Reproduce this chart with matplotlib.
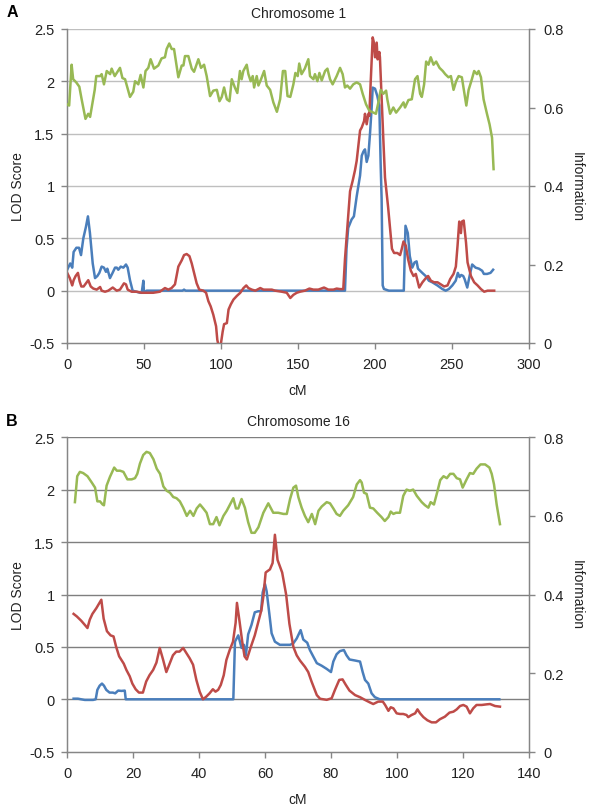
import matplotlib
matplotlib.use("Agg")
import matplotlib.pyplot as plt

plt.rcParams['font.family'] = ['Liberation Sans', 'DejaVu Sans']

# ---------------- Chromosome 1 data ----------------
a_blue_cm = [0.1, 2.1, 3.4, 4.3, 6.1, 7.8, 9.1, 10.6, 12.3, 13.6, 14.9, 16.7, 18.2, 19.7, 21, 22.5, 24, 25.3, 26.2,
             27.9, 29.6, 31.2, 32.3, 33.3, 34.9, 36.6, 38.3, 39.4, 40.9, 42.6, 47.4, 48.5, 49.6, 50, 51.7, 75, 76, 77,
             180.5, 181.5, 182.6, 184.8, 186.3, 188.1, 190.3, 191.4, 192.5, 193.5, 194.6, 195.7, 196.8, 197.8, 198.5,
             200, 201.5, 202.8, 203.7, 204.3, 205.0, 205.8, 209, 218.7, 219.8, 221.3, 222.6, 224.2, 225.7, 227, 227.9,
             230.7, 232.9, 235, 237.2, 240.5, 243.7, 245.9, 248, 250.2, 252.4, 253.8, 254.9, 256, 257.3, 258.2, 259.9,
             261.7, 263.1, 265.3, 267.5, 269.6, 270.7, 272.8, 275, 276.7]
a_blue_lod = [0.20, 0.26, 0.22, 0.37, 0.41, 0.41, 0.34, 0.50, 0.61, 0.71, 0.55, 0.26, 0.12, 0.14, 0.17, 0.23, 0.22, 0.18,
              0.21, 0.12, 0.17, 0.22, 0.22, 0.20, 0.23, 0.22, 0.25, 0.22, 0.10, 0.0, -0.02, -0.02, 0.095, -0.02, 0.0,
              0.0, 0.01, 0.0, 0.0, 0.40, 0.60, 0.68, 0.71, 0.90, 1.10, 1.29, 1.33, 1.35, 1.23, 1.29, 1.51, 1.74, 1.94,
              1.93, 1.86, 1.77, 1.19, 0.88, 0.05, 0.016, 0.0, 0.0, 0.62, 0.55, 0.33, 0.22, 0.27, 0.28, 0.21, 0.17,
              0.14, 0.095, 0.08, 0.05, 0.016, 0.0, 0.016, 0.05, 0.095, 0.17, 0.13, 0.15, 0.14, 0.11, 0.03, 0.16, 0.25,
              0.22, 0.21, 0.19, 0.16, 0.16, 0.17, 0.20]

a_red_cm = [0.1, 1.8, 3.4, 4.3, 5.6, 7.1, 8.2, 9.3, 10.8, 12.3, 13.8, 15.4, 17.1, 19.3, 21.5, 22.5, 24.7, 26.8, 29.7,
            32.3, 34.4, 37, 38.3, 39.4, 42, 45.3, 48.5, 51.7, 56, 60.3, 63.6, 65.8, 67.9, 70.1, 72.3, 74.5, 76, 77.7,
            79.5, 81, 82.5, 84.2, 85.9, 88.5, 90.3, 91.8, 93.3, 95, 96.8, 97.6, 98.5, 99.8, 101.1, 102, 103.8, 104.9,
            106.4, 108.1, 110.3, 112.5, 114.6, 116.4, 117.8, 120, 122.3, 125.5, 127.6, 129.7, 133, 135.1, 139.5,
            142.7, 145, 147, 149.2, 151.3, 154.5, 157.4, 160, 163.2, 166.9, 169.7, 173, 175.1, 177.3, 179.4, 180.5,
            182, 183.8, 185.5, 187, 188.1, 190.3, 191.4, 192.9, 193.5, 194.6, 195.7, 196.3, 197.2, 198.5, 199.3, 200,
            201.1, 201.7, 202.8, 203.2, 204.3, 205.4, 206.5, 208.5, 211, 212.4, 214.5, 216.3, 217.4, 218.5, 220,
            221.5, 223.3, 225, 226.5, 228.7, 230.8, 233, 234.5, 236.3, 238.4, 240.6, 242.8, 244.9, 247.1, 248.8, 251,
            252.5, 253.6, 254.7, 255.8, 256.4, 257.6, 259.1, 260.1, 262.3, 264.4, 266.6, 268.8, 270.9, 273.1, 277.4]
a_red_lod = [0.17, 0.12, 0.05, 0.10, 0.14, 0.17, 0.09, 0.04, 0.04, 0.07, 0.10, 0.04, 0.02, 0.01, 0.035, 0.0, -0.01,
             0.0, 0.03, 0.0, 0.01, 0.07, 0.06, 0.01, -0.01, -0.01, -0.02, -0.02, -0.02, -0.01, 0.025, 0.01, 0.025,
             0.06, 0.23, 0.29, 0.34, 0.35, 0.33, 0.26, 0.17, 0.07, 0.01, 0.0, -0.02, -0.10, -0.15, -0.23, -0.34, -0.47,
             -0.53, -0.52, -0.39, -0.32, -0.31, -0.18, -0.13, -0.085, -0.05, -0.02, 0.025, 0.05, 0.025, 0.01, 0.0,
             0.025, 0.01, 0.01, 0.01, 0.0, -0.01, -0.02, -0.07, -0.04, -0.02, -0.01, 0.0, 0.02, 0.01, 0.01, 0.03, 0.01,
             0.01, 0.02, 0.015, 0.015, 0.30, 0.59, 0.95, 1.05, 1.15, 1.24, 1.53, 1.56, 1.62, 1.69, 1.59, 1.69, 1.67,
             1.99, 2.42, 2.37, 2.23, 2.37, 2.21, 2.28, 2.23, 1.83, 1.45, 1.08, 0.80, 0.40, 0.36, 0.36, 0.34, 0.40,
             0.47, 0.43, 0.30, 0.19, 0.14, 0.16, 0.03, 0.08, 0.12, 0.14, 0.095, 0.08, 0.08, 0.06, 0.04, 0.05, 0.11,
             0.16, 0.23, 0.43, 0.66, 0.55, 0.66, 0.67, 0.46, 0.27, 0.14, 0.08, 0.05, 0.015, -0.01, 0.0, 0.0]

a_green_cm = [0.1, 1.4, 3, 4, 6, 8, 9.5, 12, 13.8, 15, 18, 19, 21.5, 22.5, 24, 25.8, 28, 29, 31, 34.4, 36, 37.7, 40.9,
              43, 44.2, 46.3, 47.8, 49.6, 51, 52.8, 54.3, 56.5, 59.3, 61.4, 63.6, 64.7, 66.4, 68, 69.5, 72.3, 74.5,
              75.6, 76.6, 78.8, 81, 82.5, 85.3, 87, 89, 90.7, 92.9, 95, 97.3, 99, 100.5, 102, 103.8, 105.5, 107, 109,
              110.6, 112.3, 113.4, 114.5, 116.7, 117.8, 119.3, 120.6, 121.5, 123.2, 124.3, 126, 128, 129.7, 131.9,
              134, 136.3, 138.4, 140.2, 141.7, 143.2, 145, 147, 148.3, 149.8, 150.8, 152.3, 154.4, 156.7, 157.8, 160,
              161, 162.6, 163.9, 165.4, 167.6, 169.1, 170.8, 172.5, 175.1, 177.3, 179, 180.5, 182, 183.8, 185.9,
              188.1, 190.3, 192, 194.2, 196.3, 198.9, 200.6, 202.2, 203.7, 205.4, 207.2, 208, 209.8, 211.9, 213.7,
              216.3, 218.5, 219.5, 221.7, 223.9, 226, 227.6, 229.3, 230.4, 231.9, 233.2, 234.7, 236.2, 238, 239.7,
              241.9, 244, 245.6, 247.7, 249.3, 251, 252.7, 254.3, 256.4, 258, 259.3, 260.8, 262.9, 264.4, 266.2,
              267.3, 268.8, 270.5, 272.7, 274.4, 276, 277]
a_green_info = [0.608, 0.605, 0.709, 0.672, 0.664, 0.653, 0.621, 0.571, 0.584, 0.576, 0.645, 0.680, 0.680, 0.685,
                0.659, 0.693, 0.685, 0.699, 0.680, 0.701, 0.675, 0.672, 0.627, 0.640, 0.667, 0.659, 0.683, 0.651,
                0.693, 0.701, 0.723, 0.699, 0.707, 0.725, 0.728, 0.749, 0.763, 0.749, 0.749, 0.677, 0.707, 0.707,
                0.731, 0.731, 0.699, 0.691, 0.723, 0.701, 0.709, 0.680, 0.629, 0.643, 0.645, 0.616, 0.627, 0.651,
                0.621, 0.616, 0.672, 0.651, 0.637, 0.693, 0.672, 0.693, 0.709, 0.685, 0.667, 0.680, 0.651, 0.680,
                0.656, 0.672, 0.693, 0.656, 0.645, 0.613, 0.589, 0.621, 0.693, 0.693, 0.629, 0.627, 0.659, 0.688,
                0.680, 0.712, 0.685, 0.699, 0.723, 0.680, 0.672, 0.685, 0.667, 0.688, 0.669, 0.693, 0.699, 0.672,
                0.659, 0.680, 0.701, 0.685, 0.651, 0.656, 0.648, 0.659, 0.664, 0.659, 0.635, 0.608, 0.592, 0.587,
                0.584, 0.613, 0.645, 0.635, 0.643, 0.621, 0.584, 0.600, 0.587, 0.600, 0.613, 0.600, 0.619, 0.621,
                0.672, 0.680, 0.635, 0.627, 0.659, 0.717, 0.709, 0.728, 0.709, 0.717, 0.701, 0.693, 0.685, 0.677,
                0.680, 0.645, 0.667, 0.680, 0.677, 0.637, 0.605, 0.645, 0.672, 0.693, 0.685, 0.693, 0.677, 0.621,
                0.584, 0.557, 0.523, 0.443]

# ---------------- Chromosome 16 data ----------------
b_blue_cm = [2.0, 3.3, 4.3, 5.4, 7.9, 8.7, 9.2, 9.9, 10.6, 11.2, 11.9, 12.9, 13.9, 14.6, 15.5, 16.5, 17.5, 17.8, 50.4,
             50.9, 51.9, 52.9, 53.6, 54.2, 54.9, 55.9, 56.9, 57.9, 58.8, 59.3, 60, 60.5, 61.3, 62, 63, 64.5, 66.6,
             67.6, 68.6, 69.6, 70.8, 71.6, 72.8, 73.6, 74.6, 75.7, 77.2, 78.7, 80, 80.7, 81.7, 82.7, 83.9, 84.7, 85.6,
             87.3, 88.8, 89.6, 90.3, 91.3, 92.3, 93.3, 94.8, 131]
b_blue_lod = [0.006, 0.006, 0.0, -0.006, -0.006, 0.0, 0.09, 0.13, 0.15, 0.13, 0.09, 0.064, 0.064, 0.057, 0.083, 0.08,
              0.083, 0.0, 0.0, 0.55, 0.61, 0.49, 0.52, 0.42, 0.62, 0.71, 0.83, 0.84, 0.84, 1.02, 1.10, 1.03, 0.82,
              0.63, 0.55, 0.52, 0.52, 0.52, 0.535, 0.58, 0.66, 0.57, 0.54, 0.47, 0.41, 0.345, 0.32, 0.29, 0.26, 0.36,
              0.43, 0.46, 0.47, 0.42, 0.38, 0.37, 0.36, 0.26, 0.185, 0.15, 0.057, 0.02, 0.0, 0.0]

b_red_cm = [2.0, 3.0, 4.3, 5.4, 6.2, 6.9, 7.7, 8.9, 10.4, 11.1, 12.1, 13.2, 14.1, 14.9, 15.8, 16.5, 17.2, 18, 19, 19.8,
            20.8, 21.8, 23, 24, 25, 26.1, 27.1, 28.1, 29.1, 30.1, 31.1, 32.1, 33.1, 34.1, 35.2, 36.2, 37.2, 38.2,
            39.2, 40.2, 41.2, 42.2, 43.2, 44.2, 45, 45.8, 46.6, 47.5, 48.3, 49.3, 50.3, 51.1, 51.5, 52.3, 53.1, 53.8,
            54.5, 55.6, 56.9, 57.9, 58.9, 59.5, 60.2, 61.5, 62.3, 63, 63.8, 65.2, 66.4, 67.4, 68.6, 69.6, 70.6, 72.1,
            73.1, 74.1, 75.7, 76.7, 78.7, 80.2, 81.2, 82.5, 83.5, 84.5, 85.6, 87.3, 88.8, 90.3, 91.8, 92.8, 94.3,
            95.7, 96.4, 97.4, 98.1, 98.9, 99.9, 100.9, 101.9, 102.9, 103.4, 104.4, 105.5, 106.2, 107, 108, 109.2,
            110.5, 111.8, 113, 114.5, 115.9, 117.1, 118.1, 119.1, 120.1, 121.1, 122.1, 123.1, 124.1, 125.7, 127.2,
            128.2, 129.7, 131.2]
b_red_lod = [0.815, 0.79, 0.75, 0.71, 0.68, 0.76, 0.815, 0.87, 0.95, 0.77, 0.65, 0.61, 0.60, 0.50, 0.41, 0.375, 0.34,
             0.28, 0.22, 0.15, 0.096, 0.064, 0.064, 0.17, 0.23, 0.28, 0.35, 0.49, 0.38, 0.26, 0.34, 0.42, 0.455,
             0.455, 0.49, 0.44, 0.39, 0.33, 0.185, 0.073, 0.0, 0.025, 0.057, 0.096, 0.073, 0.09, 0.137, 0.23, 0.375,
             0.47, 0.55, 0.73, 0.92, 0.74, 0.55, 0.41, 0.38, 0.49, 0.61, 0.73, 0.85, 0.98, 1.21, 1.24, 1.30, 1.57,
             1.33, 1.21, 1.0, 0.72, 0.50, 0.42, 0.37, 0.31, 0.26, 0.17, 0.04, 0.005, -0.005, 0.01, 0.09, 0.185, 0.19,
             0.137, 0.083, 0.04, 0.02, -0.006, -0.03, -0.045, -0.022, -0.022, -0.054, -0.11, -0.076, -0.086, -0.134,
             -0.14, -0.14, -0.15, -0.17, -0.15, -0.134, -0.096, -0.134, -0.17, -0.2, -0.22, -0.22, -0.19, -0.166,
             -0.127, -0.118, -0.096, -0.064, -0.054, -0.07, -0.134, -0.086, -0.054, -0.054, -0.048, -0.045, -0.064,
             -0.07]

b_green_cm = [2.4, 3.1, 3.9, 4.9, 6.2, 7.5, 8.5, 9.2, 10, 10.8, 11.2, 12, 13, 14.3, 15.1, 16.1, 17.1, 18.3, 19.6, 20.6,
              21.3, 22.1, 23.1, 24.1, 25.1, 26.2, 27.2, 28.2, 29.2, 30.2, 31.2, 32.2, 33.2, 34.2, 35.2, 36.3, 37.3,
              38.3, 39.3, 40.3, 41.3, 42.3, 43.3, 44.3, 45.3, 46.2, 47.4, 48.4, 49.4, 50.4, 51.2, 51.9, 52.9, 53.9,
              54.9, 55.9, 56.9, 58, 59.5, 61, 62.5, 64, 65.6, 66.6, 67.6, 68.6, 69.4, 70.1, 71.1, 72.1, 73.1, 74.2,
              75.2, 76.2, 77.2, 78.7, 79.7, 80.7, 81.7, 82.7, 83.7, 85.2, 86.7, 87.8, 88.8, 89.3, 90, 90.8, 91.8,
              92.8, 94, 95.3, 96.3, 97.4, 98.1, 98.9, 99.7, 100.9, 101.9, 102.9, 103.9, 104.9, 106, 107.5, 108.5,
              109.5, 110.2, 111.2, 112.3, 113.1, 114.1, 115.1, 116.1, 117.1, 118.1, 119.1, 119.9, 121.1, 122.1,
              123.1, 124.1, 125.3, 126.7, 128, 128.7, 129.4, 130.2, 131.2]
b_green_info = [0.635, 0.701, 0.712, 0.709, 0.701, 0.685, 0.672, 0.637, 0.637, 0.629, 0.627, 0.677, 0.699, 0.723,
                0.715, 0.715, 0.712, 0.693, 0.693, 0.696, 0.707, 0.733, 0.755, 0.763, 0.760, 0.744, 0.720, 0.707,
                0.675, 0.664, 0.659, 0.648, 0.645, 0.637, 0.621, 0.600, 0.613, 0.600, 0.619, 0.629, 0.619, 0.608,
                0.579, 0.579, 0.597, 0.576, 0.600, 0.613, 0.629, 0.645, 0.619, 0.619, 0.643, 0.621, 0.584, 0.557,
                0.557, 0.571, 0.608, 0.632, 0.608, 0.608, 0.605, 0.605, 0.643, 0.672, 0.677, 0.648, 0.621, 0.600,
                0.584, 0.605, 0.579, 0.613, 0.624, 0.635, 0.632, 0.619, 0.605, 0.600, 0.613, 0.627, 0.648, 0.680,
                0.691, 0.685, 0.659, 0.656, 0.621, 0.619, 0.608, 0.597, 0.587, 0.597, 0.611, 0.605, 0.608, 0.608,
                0.651, 0.667, 0.664, 0.667, 0.651, 0.635, 0.627, 0.621, 0.635, 0.629, 0.664, 0.691, 0.701, 0.696,
                0.707, 0.707, 0.696, 0.693, 0.672, 0.693, 0.709, 0.707, 0.720, 0.731, 0.731, 0.723, 0.707, 0.680,
                0.629, 0.579]

panels = [
    dict(letter="A", title="Chromosome 1", xmax=300, xstep=50, blue=(a_blue_cm, a_blue_lod),
         red=(a_red_cm, a_red_lod), green=(a_green_cm, a_green_info), grid="#bfbfbf",
         rect=[67 / 593, 1 - 344 / 812, 462 / 593, 314 / 812]),
    dict(letter="B", title="Chromosome 16", xmax=140, xstep=20, blue=(b_blue_cm, b_blue_lod),
         red=(b_red_cm, b_red_lod), green=(b_green_cm, b_green_info), grid="#7f7f7f",
         rect=[67 / 593, 1 - 752.7 / 812, 462 / 593, 314.4 / 812]),
]

lod_ticks = [-0.5, 0, 0.5, 1, 1.5, 2, 2.5]
lod_labels = ["-0.5", "0", "0.5", "1", "1.5", "2", "2.5"]
info_ticks = [0, 0.2, 0.4, 0.6, 0.8]
info_labels = ["0", "0.2", "0.4", "0.6", "0.8"]

BLUE = "#4a7ebb"
RED = "#be4b48"
GREEN = "#98b954"
SPINE = "#868686"
TXT = "#222222"

fig = plt.figure(figsize=(5.93, 8.12), dpi=100)

for p in panels:
    ax = fig.add_axes(p["rect"])
    ax.set_xlim(0, p["xmax"])
    ax.set_ylim(-0.5, 2.5)
    ax.set_xticks(list(range(0, p["xmax"] + 1, p["xstep"])))
    ax.set_yticks(lod_ticks)
    ax.set_yticklabels(lod_labels)
    for y in lod_ticks[1:]:
        ax.axhline(y, color=p["grid"], lw=1.0, zorder=1)
    ax.plot(p["blue"][0], p["blue"][1], color=BLUE, lw=1.8, zorder=3)
    ax.plot(p["red"][0], p["red"][1], color=RED, lw=1.8, zorder=4)
    ax.spines["top"].set_visible(False)
    for s in ["left", "bottom", "right"]:
        ax.spines[s].set_color(SPINE)
        ax.spines[s].set_linewidth(1.0)
    ax.tick_params(axis="both", direction="out", length=4, width=1, color=SPINE,
                   labelsize=10.5, labelcolor=TXT)
    ax.tick_params(axis="x", pad=6)
    ax.tick_params(axis="y", pad=5)
    ax.set_ylabel("LOD Score", fontsize=10, color=TXT, labelpad=3)
    ax.set_xlabel("cM", fontsize=10, color=TXT, labelpad=9)

    ax2 = ax.twinx()
    ax2.set_ylim(0, 0.8)
    ax2.set_yticks(info_ticks)
    ax2.set_yticklabels(info_labels)
    ax2.plot(p["green"][0], p["green"][1], color=GREEN, lw=1.8, zorder=5)
    ax2.spines["top"].set_visible(False)
    for s in ["left", "bottom", "right"]:
        ax2.spines[s].set_color(SPINE)
    ax2.tick_params(axis="y", direction="out", length=4, width=1, color=SPINE,
                    labelsize=10.5, labelcolor=TXT, pad=6)
    ax2.set_ylabel("Information", fontsize=10, color=TXT, rotation=270, labelpad=15)

    top_px = (1 - (p["rect"][1] + p["rect"][3])) * 812
    fig.text(0.5 + 0.004, 1 - (top_px - 16) / 812, p["title"], ha="center", va="center",
             fontsize=10, color=TXT)
    fig.text(12 / 593, 1 - (top_px - 17) / 812, p["letter"], ha="center", va="center",
             fontsize=11.5, fontweight="bold", color="black")

fig.savefig("out.png", dpi=100, facecolor="white")
